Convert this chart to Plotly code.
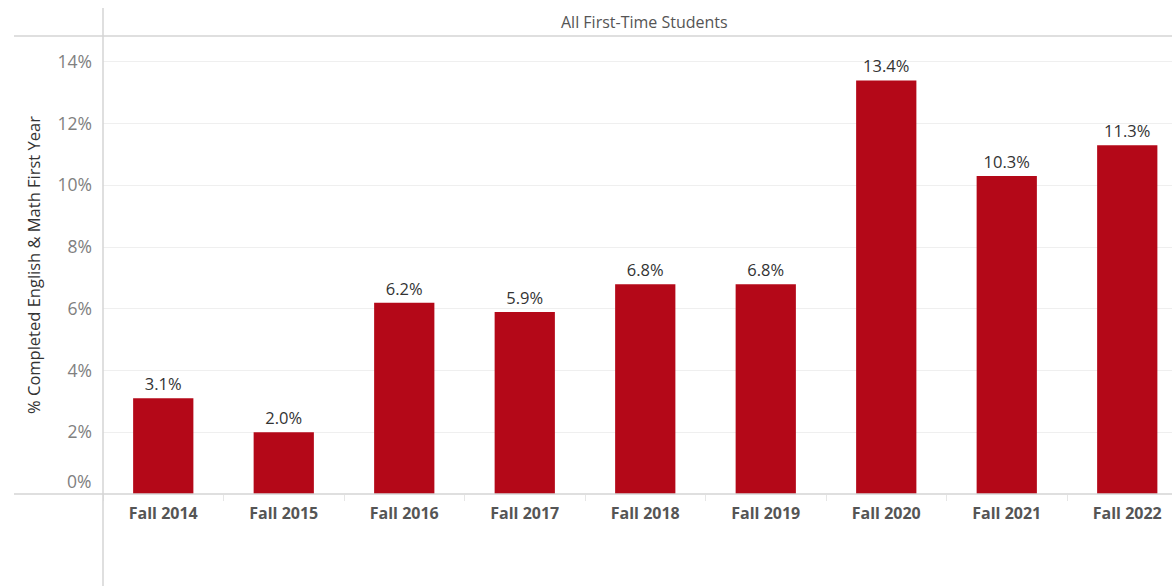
import plotly.graph_objects as go

categories = ["Fall 2014", "Fall 2015", "Fall 2016", "Fall 2017", "Fall 2018",
              "Fall 2019", "Fall 2020", "Fall 2021", "Fall 2022"]
values = [3.1, 2.0, 6.2, 5.9, 6.8, 6.8, 13.4, 10.3, 11.3]
bar_labels = [f"{v:.1f}%" for v in values]
y_tick_vals = [0, 2, 4, 6, 8, 10, 12, 14]
y_tick_text = [f"{v}%" for v in y_tick_vals]
header = "All First-Time Students"
y_title = "% Completed English & Math First Year"

BAR = "#B40818"
FONT = "Open Sans, Lato, sans-serif"

fig = go.Figure(go.Bar(
    x=categories, y=values, text=bar_labels, textposition="outside",
    cliponaxis=False, width=0.5, marker=dict(color=BAR, line=dict(width=0)),
    textfont=dict(family=FONT, size=16.5, color="#333333"),
))

W, H = 1172, 586
L, R, T, B = 103, 0, 36, 92
pw, ph = W - L - R, H - T - B

def px(x):
    return (x - L) / pw

def py(y):
    return (H - B - y) / ph

# the zero tick label sits slightly above the baseline, as in the reference
shown_ticks = ["" if v == 0 else t for v, t in zip(y_tick_vals, y_tick_text)]
tick_font = dict(family=FONT, size=17.5, color="#808080")

fig.update_layout(
    width=W, height=H, margin=dict(l=L, r=R, t=T, b=B, pad=0),
    paper_bgcolor="white", plot_bgcolor="white", showlegend=False,
    font=dict(family=FONT),
    xaxis=dict(
        type="category", range=[-0.5, -0.5 + pw / 120.5],
        showgrid=False, showline=False, zeroline=False,
        ticks="outside", tickson="boundaries", ticklen=6, tickcolor="#e6e6e6",
        ticklabelstandoff=8,
        tickfont=dict(family=FONT, size=16, color="#555555", weight="bold"),
    ),
    yaxis=dict(
        range=[0, 14.84], tickvals=y_tick_vals, ticktext=shown_ticks,
        showgrid=True, gridcolor="#efefef", gridwidth=1,
        zeroline=False, showline=False, ticks="",
        ticklabelstandoff=10,
        tickfont=tick_font,
        title=dict(text=y_title, font=dict(family=FONT, size=16.5, color="#333333"), standoff=12),
    ),
    shapes=[
        dict(type="line", xref="paper", yref="paper", x0=px(103), x1=px(103),
             y0=py(8), y1=py(586), line=dict(color="#d4d4d4", width=1.5)),
        dict(type="line", xref="paper", yref="paper", x0=px(14), x1=1,
             y0=py(36), y1=py(36), line=dict(color="#d4d4d4", width=1.5)),
        dict(type="line", xref="paper", yref="paper", x0=px(14), x1=1,
             y0=py(494), y1=py(494), line=dict(color="#d4d4d4", width=1.5)),
    ],
    annotations=[
        dict(text=header, xref="paper", yref="paper", x=px(644), y=py(22),
             showarrow=False, xanchor="center", yanchor="middle",
             font=dict(family=FONT, size=16, color="#555555")),
        dict(text=y_tick_text[0], xref="paper", yref="paper", x=px(93), y=py(481),
             showarrow=False, xanchor="right", yanchor="middle", xshift=0,
             font=tick_font),
    ],
)

fig.write_html("out.html", config={"displayModeBar": False},
               post_script="document.body.style.margin='0';document.body.style.overflow='hidden';")
